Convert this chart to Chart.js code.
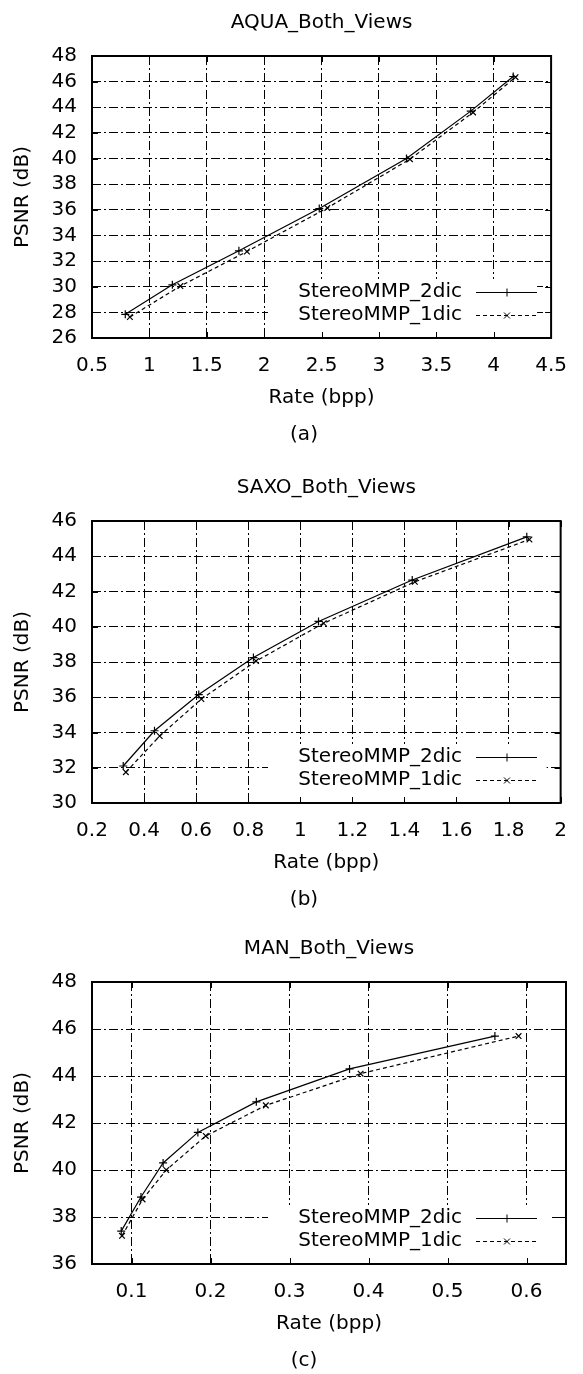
<!DOCTYPE html>
<html>
<head>
<meta charset="utf-8">
<script src="https://cdn.jsdelivr.net/npm/chart.js@4/dist/chart.umd.min.js"></script>
<style>
  html, body { margin: 0; background: #fff; }
  #wrap { position: relative; width: 583px; height: 1374px; }
  canvas { position: absolute; left: 0; }
</style>
</head>
<body>
<div id="wrap">
  <canvas id="chA" width="583" height="448" style="top:0"></canvas>
  <canvas id="chB" width="583" height="448" style="top:465px"></canvas>
  <canvas id="chC" width="583" height="448" style="top:926px"></canvas>
</div>
<script>
// PSNR vs rate, three stereo sequences (gnuplot style)

const FONT = 'DejaVu Sans';
const LABEL_2DIC = 'StereoMMP_2dic';
const LABEL_1DIC = 'StereoMMP_1dic';
const X_TITLE = 'Rate (bpp)';
const Y_TITLE = 'PSNR (dB)';

// (a) AQUA
const titleA = 'AQUA_Both_Views';
const rateA2 = [0.79, 1.20, 1.78, 2.48, 3.24, 3.80, 4.17];
const psnrA2 = [27.85, 30.15, 32.8, 36.1, 40.0, 43.7, 46.4];
const rateA1 = [0.83, 1.27, 1.85, 2.55, 3.27, 3.82, 4.19];
const psnrA1 = [27.64, 30.05, 32.75, 36.15, 39.95, 43.6, 46.35];
const xTicksA = [0.5, 1, 1.5, 2, 2.5, 3, 3.5, 4, 4.5];
const yTicksA = [26, 28, 30, 32, 34, 36, 38, 40, 42, 44, 46, 48];

// (b) SAXO
const titleB = 'SAXO_Both_Views';
const rateB2 = [0.32, 0.44, 0.61, 0.82, 1.07, 1.43, 1.87];
const psnrB2 = [32.1, 34.1, 36.15, 38.25, 40.3, 42.65, 45.1];
const rateB1 = [0.33, 0.46, 0.62, 0.83, 1.09, 1.44, 1.88];
const psnrB1 = [31.75, 33.8, 35.9, 38.05, 40.2, 42.55, 44.95];
const xTicksB = [0.2, 0.4, 0.6, 0.8, 1, 1.2, 1.4, 1.6, 1.8, 2];
const yTicksB = [30, 32, 34, 36, 38, 40, 42, 44, 46];

// (c) MAN
const titleC = 'MAN_Both_Views';
const rateC2 = [0.087, 0.112, 0.14, 0.184, 0.258, 0.376, 0.56];
const psnrC2 = [37.4, 38.85, 40.3, 41.6, 42.9, 44.3, 45.7];
const rateC1 = [0.088, 0.114, 0.144, 0.194, 0.27, 0.39, 0.59];
const psnrC1 = [37.2, 38.75, 40.0, 41.45, 42.75, 44.1, 45.7];
const xTicksC = [0.1, 0.2, 0.3, 0.4, 0.5, 0.6];
const yTicksC = [36, 38, 40, 42, 44, 46, 48];

const GRID_DASH = [9, 3, 2, 3];

function pts(xs, ys) {
  return xs.map((x, i) => ({ x, y: ys[i] }));
}

function marker(ctx, style, x, y, r) {
  ctx.beginPath();
  if (style === 'cross') {
    ctx.moveTo(x - r, y); ctx.lineTo(x + r, y);
    ctx.moveTo(x, y - r); ctx.lineTo(x, y + r);
  } else {
    const d = r * 0.75;
    ctx.moveTo(x - d, y - d); ctx.lineTo(x + d, y + d);
    ctx.moveTo(x - d, y + d); ctx.lineTo(x + d, y - d);
  }
  ctx.stroke();
}

// key inside the plot, inward tick marks, full frame, caption
const gnuFrame = {
  id: 'gnuFrame',
  afterDraw(chart, args, opts) {
    const { ctx, chartArea: a } = chart;
    const xs = chart.scales.x, ys = chart.scales.y;
    ctx.save();

    // clear key area
    ctx.fillStyle = '#fff';
    const kl = a.left + 176, kr = a.right - 14;
    ctx.fillRect(kl, a.bottom - 59, kr - kl, 59);

    // inward ticks
    ctx.strokeStyle = '#000';
    ctx.lineWidth = 1;
    ctx.setLineDash([]);
    ctx.beginPath();
    xs.ticks.forEach(t => {
      const p = Math.round(xs.getPixelForValue(t.value)) + 0.5;
      ctx.moveTo(p, a.bottom); ctx.lineTo(p, a.bottom - 6);
      ctx.moveTo(p, a.top); ctx.lineTo(p, a.top + 6);
    });
    ys.ticks.forEach(t => {
      const p = Math.round(ys.getPixelForValue(t.value)) + 0.5;
      ctx.moveTo(a.left, p); ctx.lineTo(a.left + 6, p);
      ctx.moveTo(a.right, p); ctx.lineTo(a.right - 6, p);
    });
    ctx.stroke();

    // key
    ctx.font = `20px "${FONT}"`;
    ctx.fillStyle = '#000';
    ctx.textAlign = 'right';
    ctx.textBaseline = 'middle';
    chart.data.datasets.forEach((ds, i) => {
      const y = a.bottom - 46 + i * 23;
      ctx.fillText(ds.label, a.left + 370, y);
      ctx.setLineDash(ds.borderDash || []);
      ctx.beginPath();
      ctx.moveTo(a.left + 384, y + 0.5);
      ctx.lineTo(a.left + 445, y + 0.5);
      ctx.stroke();
      ctx.setLineDash([]);
      marker(ctx, ds.pointStyle, a.left + 415, y + 0.5, 4);
    });

    // frame
    ctx.lineWidth = 2;
    ctx.strokeRect(a.left, a.top, a.right - a.left, a.bottom - a.top);

    // caption under the chart
    ctx.textAlign = 'center';
    ctx.fillText(opts.caption, a.left + 212, a.bottom + 97);
    ctx.restore();
  }
};

function makeChart(id, title, caption, set2, set1, xTicks, yTicks, xMin, xMax) {
  const tickFont = { family: FONT, size: 20 };
  return new Chart(document.getElementById(id), {
    type: 'scatter',
    data: {
      datasets: [{
        label: LABEL_2DIC,
        data: set2,
        showLine: true,
        borderColor: '#000',
        borderWidth: 1.2,
        pointStyle: 'cross',
        pointRadius: 4,
        pointBorderColor: '#000',
        pointBorderWidth: 1.2
      }, {
        label: LABEL_1DIC,
        data: set1,
        showLine: true,
        borderColor: '#000',
        borderWidth: 1.2,
        borderDash: [4, 3],
        pointStyle: 'crossRot',
        pointRadius: 4,
        pointBorderColor: '#000',
        pointBorderWidth: 1.2
      }]
    },
    options: {
      responsive: false,
      animation: false,
      layout: { padding: { left: 0, right: 17, top: 0, bottom: 0 } },
      plugins: {
        legend: { display: false },
        tooltip: { enabled: false },
        title: {
          display: true,
          text: title,
          fullSize: false,
          color: '#000',
          font: { family: FONT, size: 20, weight: 'normal' },
          padding: { top: 11, bottom: 21 }
        },
        gnuFrame: { caption }
      },
      scales: {
        x: {
          type: 'linear',
          min: xMin,
          max: xMax,
          afterBuildTicks: s => { s.ticks = xTicks.map(v => ({ value: v })); },
          afterFit: s => { s.height = 110; },
          ticks: {
            color: '#000',
            font: tickFont,
            padding: 16,
            maxRotation: 0,
            autoSkip: false,
            callback: v => String(v)
          },
          grid: { color: '#000', lineWidth: 1, drawTicks: false },
          border: { display: false, dash: GRID_DASH },
          title: {
            display: true,
            text: X_TITLE,
            color: '#000',
            font: tickFont,
            padding: { top: 0, bottom: 38 }
          }
        },
        y: {
          type: 'linear',
          min: yTicks[0],
          max: yTicks[yTicks.length - 1],
          afterBuildTicks: s => { s.ticks = yTicks.map(v => ({ value: v })); },
          afterFit: s => { s.width = 92; },
          ticks: {
            color: '#000',
            font: tickFont,
            padding: 15,
            autoSkip: false,
            callback: v => String(v)
          },
          grid: { color: '#000', lineWidth: 1, drawTicks: false },
          border: { display: false, dash: GRID_DASH },
          title: {
            display: true,
            text: Y_TITLE,
            color: '#000',
            font: tickFont,
            padding: { top: 11, bottom: 0 }
          }
        }
      }
    },
    plugins: [gnuFrame]
  });
}

makeChart('chA', titleA, '(a)', pts(rateA2, psnrA2), pts(rateA1, psnrA1),
  xTicksA, yTicksA, xTicksA[0], xTicksA[xTicksA.length - 1]);
makeChart('chB', titleB, '(b)', pts(rateB2, psnrB2), pts(rateB1, psnrB1),
  xTicksB, yTicksB, xTicksB[0], xTicksB[xTicksB.length - 1]);
makeChart('chC', titleC, '(c)', pts(rateC2, psnrC2), pts(rateC1, psnrC1),
  xTicksC, yTicksC, 0.05, 0.65);
</script>
</body>
</html>
